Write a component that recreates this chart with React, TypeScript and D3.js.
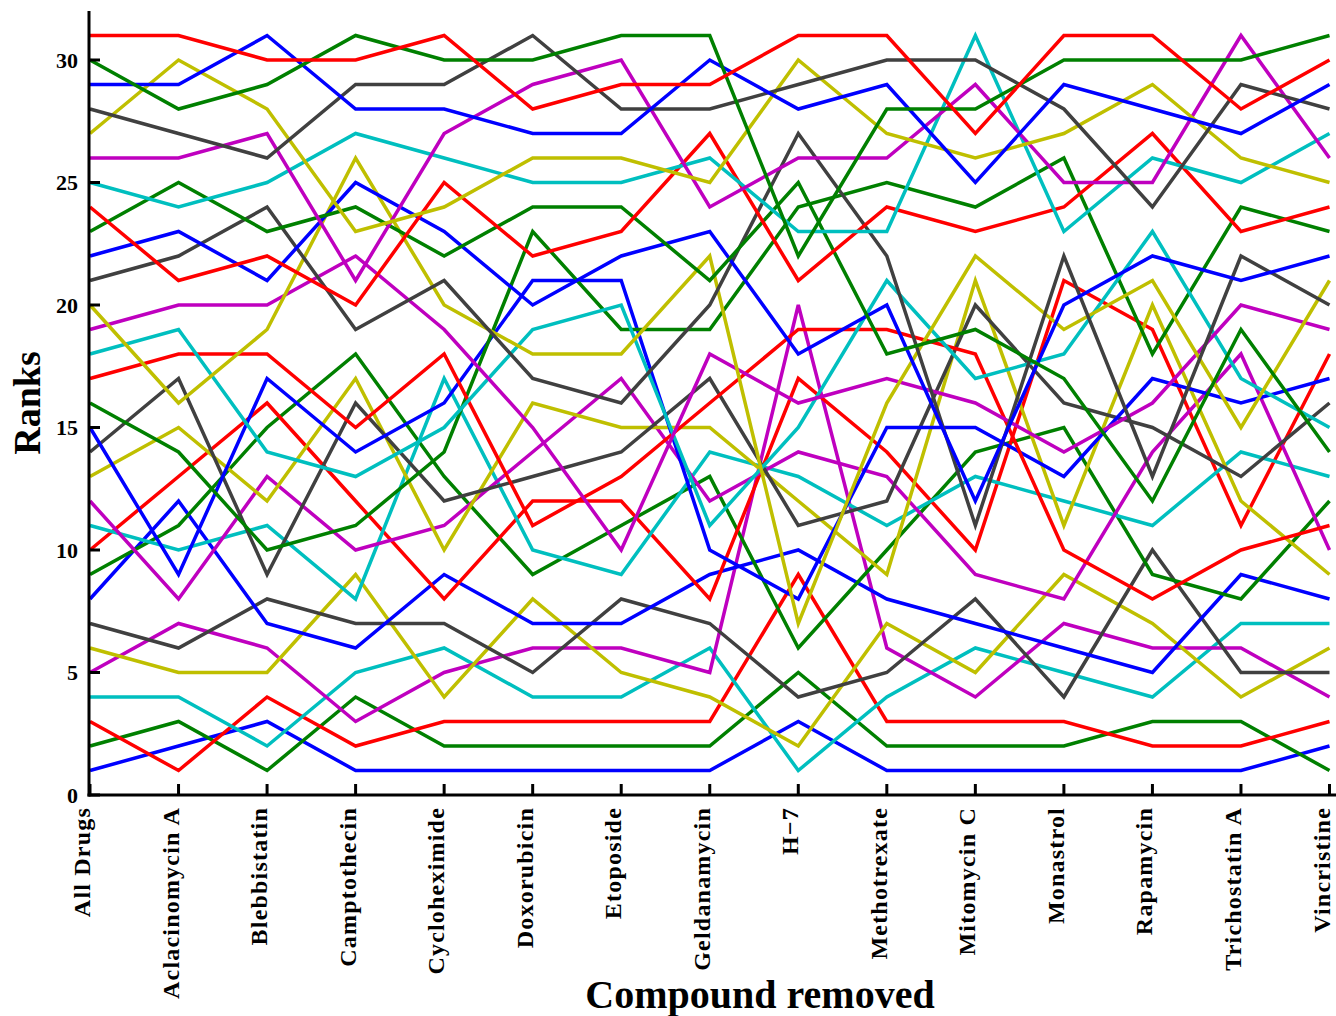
import React from "react";
import * as d3 from "d3";

// Compounds removed (one column per compound)
const compounds = [
  "All Drugs",
  "Aclacinomycin A",
  "Blebbistatin",
  "Camptothecin",
  "Cycloheximide",
  "Doxorubicin",
  "Etoposide",
  "Geldanamycin",
  "H\u22127",
  "Methotrexate",
  "Mitomycin C",
  "Monastrol",
  "Rapamycin",
  "Trichostatin A",
  "Vincristine",
];

// Rank of each item after removing each compound (one row per item)
const ranks: number[][] = [
  [1, 2, 3, 1, 1, 1, 1, 1, 3, 1, 1, 1, 1, 1, 2],
  [2, 3, 1, 4, 2, 2, 2, 2, 5, 2, 2, 2, 3, 3, 1],
  [3, 1, 4, 2, 3, 3, 3, 3, 9, 3, 3, 3, 2, 2, 3],
  [4, 4, 2, 5, 6, 4, 4, 6, 1, 4, 6, 5, 4, 7, 7],
  [5, 7, 6, 3, 5, 6, 6, 5, 20, 6, 4, 7, 6, 6, 4],
  [6, 5, 5, 9, 4, 8, 5, 4, 2, 7, 5, 9, 7, 4, 6],
  [7, 6, 8, 7, 7, 5, 8, 7, 4, 5, 8, 4, 10, 5, 5],
  [8, 12, 7, 6, 9, 7, 7, 9, 10, 8, 7, 6, 5, 9, 8],
  [9, 11, 15, 18, 13, 9, 11, 13, 6, 10, 14, 15, 9, 8, 12],
  [10, 13, 16, 12, 8, 12, 12, 8, 17, 14, 10, 21, 19, 11, 18],
  [11, 10, 11, 8, 17, 10, 9, 14, 13, 11, 13, 12, 11, 14, 13],
  [12, 8, 13, 10, 11, 14, 17, 12, 14, 13, 9, 8, 14, 18, 10],
  [13, 15, 12, 17, 10, 16, 15, 15, 12, 9, 21, 11, 20, 12, 9],
  [14, 17, 9, 16, 12, 13, 14, 17, 11, 12, 20, 16, 15, 13, 16],
  [15, 9, 17, 14, 16, 21, 21, 10, 8, 15, 15, 13, 17, 16, 17],
  [16, 14, 10, 11, 14, 23, 19, 19, 24, 25, 24, 26, 18, 24, 23],
  [17, 18, 18, 15, 18, 11, 13, 16, 19, 19, 18, 10, 8, 10, 11],
  [18, 19, 14, 13, 15, 19, 20, 11, 15, 21, 17, 18, 23, 17, 15],
  [19, 20, 20, 22, 19, 15, 10, 18, 16, 17, 16, 14, 16, 20, 19],
  [20, 16, 19, 26, 20, 18, 18, 22, 7, 16, 22, 19, 21, 15, 21],
  [21, 22, 24, 19, 21, 17, 16, 20, 27, 22, 11, 22, 13, 22, 20],
  [22, 23, 21, 25, 23, 20, 22, 23, 18, 20, 12, 20, 22, 21, 22],
  [23, 25, 23, 24, 22, 24, 24, 21, 25, 18, 19, 17, 12, 19, 14],
  [24, 21, 22, 20, 25, 22, 23, 27, 21, 24, 23, 24, 27, 23, 24],
  [25, 24, 25, 27, 26, 25, 25, 26, 23, 23, 31, 23, 26, 25, 27],
  [26, 26, 27, 21, 27, 29, 30, 24, 26, 26, 29, 25, 25, 31, 26],
  [27, 30, 28, 23, 24, 26, 26, 25, 30, 27, 26, 27, 29, 26, 25],
  [28, 27, 26, 29, 29, 31, 28, 28, 29, 30, 30, 28, 24, 29, 28],
  [29, 29, 31, 28, 28, 27, 27, 30, 28, 29, 25, 29, 28, 27, 29],
  [30, 28, 29, 31, 30, 30, 31, 31, 22, 28, 28, 30, 30, 30, 31],
  [31, 31, 30, 30, 31, 28, 29, 29, 31, 31, 27, 31, 31, 28, 30],
];

const yTicks = [0, 5, 10, 15, 20, 25, 30];

// Cycled line colours
const palette = ["#0000ff", "#008000", "#ff0000", "#00bfbf", "#bf00bf", "#bfbf00", "#404040"];

const W = 1336;
const H = 1016;
const FONT = "'Liberation Serif', 'Times New Roman', serif";

export default function App() {
  const x = d3.scalePoint<string>().domain(compounds).range([90, 1329.5]);
  const y = d3.scaleLinear().domain([0, 32]).range([795, 11]);

  const line = d3
    .line<number>()
    .x((_, i) => x(compounds[i]) as number)
    .y((d) => y(d));

  const axisX = 89;
  const axisY = y(0);

  return (
    <svg
      width={W}
      height={H}
      style={{ position: "absolute", left: 0, top: 0, background: "#fff" }}
    >
      <g fill="none" strokeWidth={3.5} strokeLinejoin="miter">
        {ranks.map((row, i) => (
          <path key={i} d={line(row) || ""} stroke={palette[i % palette.length]} />
        ))}
      </g>

      {/* axes */}
      <line x1={axisX} x2={axisX} y1={y(32)} y2={axisY + 1.5} stroke="#000" strokeWidth={3} />
      <line x1={axisX - 1.5} x2={W} y1={axisY} y2={axisY} stroke="#000" strokeWidth={3} />

      {yTicks.map((t) => (
        <g key={t}>
          <line x1={axisX} x2={axisX + 11} y1={y(t)} y2={y(t)} stroke="#000" strokeWidth={3} />
          <text
            x={78}
            y={y(t)}
            dy="0.35em"
            textAnchor="end"
            fontFamily={FONT}
            fontWeight="bold"
            fontSize={22}
          >
            {t}
          </text>
        </g>
      ))}

      {compounds.map((c) => {
        const cx = x(c) as number;
        return (
          <g key={c}>
            <line x1={cx} x2={cx} y1={axisY} y2={axisY - 11} stroke="#000" strokeWidth={3} />
            <text
              transform={`translate(${cx},${axisY + 12}) rotate(-90)`}
              dy="0"
              textAnchor="end"
              fontFamily={FONT}
              fontWeight="bold"
              fontSize={24}
              letterSpacing={1.2}
            >
              {c}
            </text>
          </g>
        );
      })}

      <text
        x={760}
        y={1008}
        textAnchor="middle"
        fontFamily={FONT}
        fontWeight="bold"
        fontSize={40}
      >
        Compound removed
      </text>
      <text
        transform={`translate(40,${y(16)}) rotate(-90)`}
        textAnchor="middle"
        fontFamily={FONT}
        fontWeight="bold"
        fontSize={38}
      >
        Ranks
      </text>
    </svg>
  );
}
